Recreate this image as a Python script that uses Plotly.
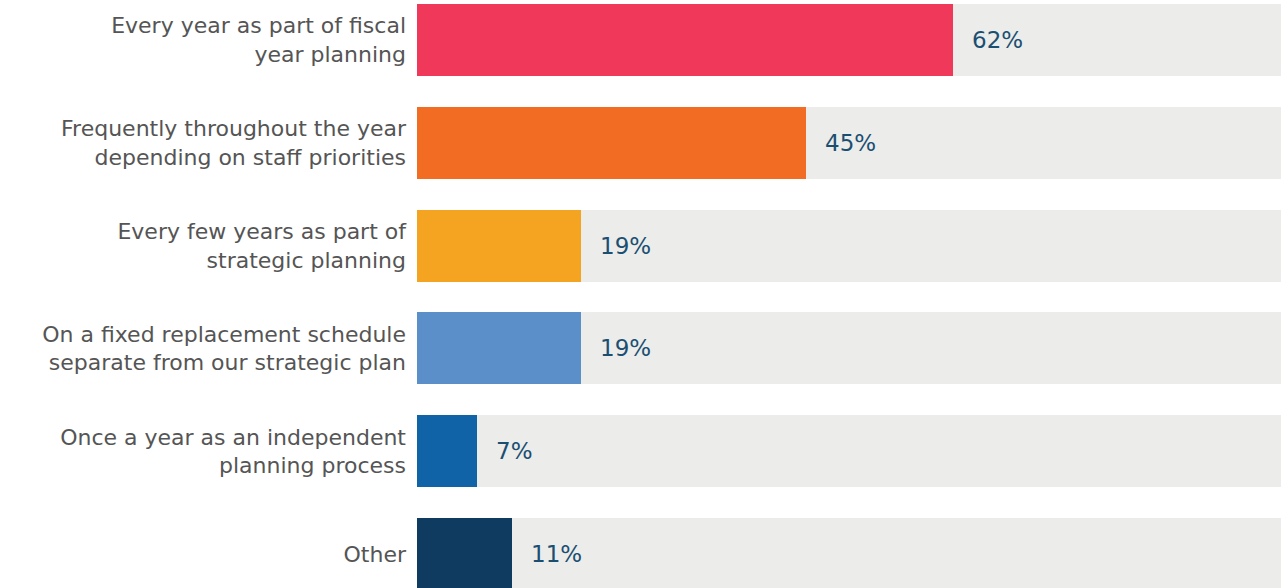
import plotly.graph_objects as go

# Survey responses: how often the organisation reviews its technology plan
categories = [
    "Every year as part of fiscal<br>year planning",
    "Frequently throughout the year<br>depending on staff priorities",
    "Every few years as part of<br>strategic planning",
    "On a fixed replacement schedule<br>separate from our strategic plan",
    "Once a year as an independent<br>planning process",
    "Other",
]
shares = [62, 45, 19, 19, 7, 11]
bar_colors = ["#f0385a", "#f26c23", "#f5a422", "#5b8fca", "#1063a6", "#0e3b5f"]
full_scale = [100] * len(categories)

positions = list(range(len(categories)))

fig = go.Figure()

# light grey track behind each bar, running to 100%
fig.add_trace(go.Bar(
    y=positions, x=full_scale, orientation="h",
    marker=dict(color="#ececea", line=dict(width=0)),
    width=0.70, hoverinfo="skip", showlegend=False,
))

# the response shares
fig.add_trace(go.Bar(
    y=positions, x=shares, orientation="h",
    marker=dict(color=bar_colors, line=dict(width=0)),
    width=0.70, showlegend=False,
))

for pos, val in zip(positions, shares):
    fig.add_annotation(
        x=val, y=pos, text=f"{val}%", showarrow=False,
        xanchor="left", yanchor="middle", xshift=17,
        font=dict(family="DejaVu Sans, sans-serif", size=23, color="#1b4f72"),
    )

fig.update_layout(
    width=1281, height=588,
    margin=dict(l=417, r=0, t=0, b=0),
    barmode="overlay",
    bargap=0,
    plot_bgcolor="white", paper_bgcolor="white",
    xaxis=dict(range=[0, 100], visible=False, fixedrange=True),
    yaxis=dict(
        range=[5.331, -0.389],
        tickmode="array", tickvals=positions, ticktext=categories,
        showgrid=False, zeroline=False, showline=False,
        ticks="", ticklabelstandoff=10,
        tickfont=dict(family="DejaVu Sans, sans-serif", size=22, color="#555555"),
    ),
)

fig.write_html("out.html")
